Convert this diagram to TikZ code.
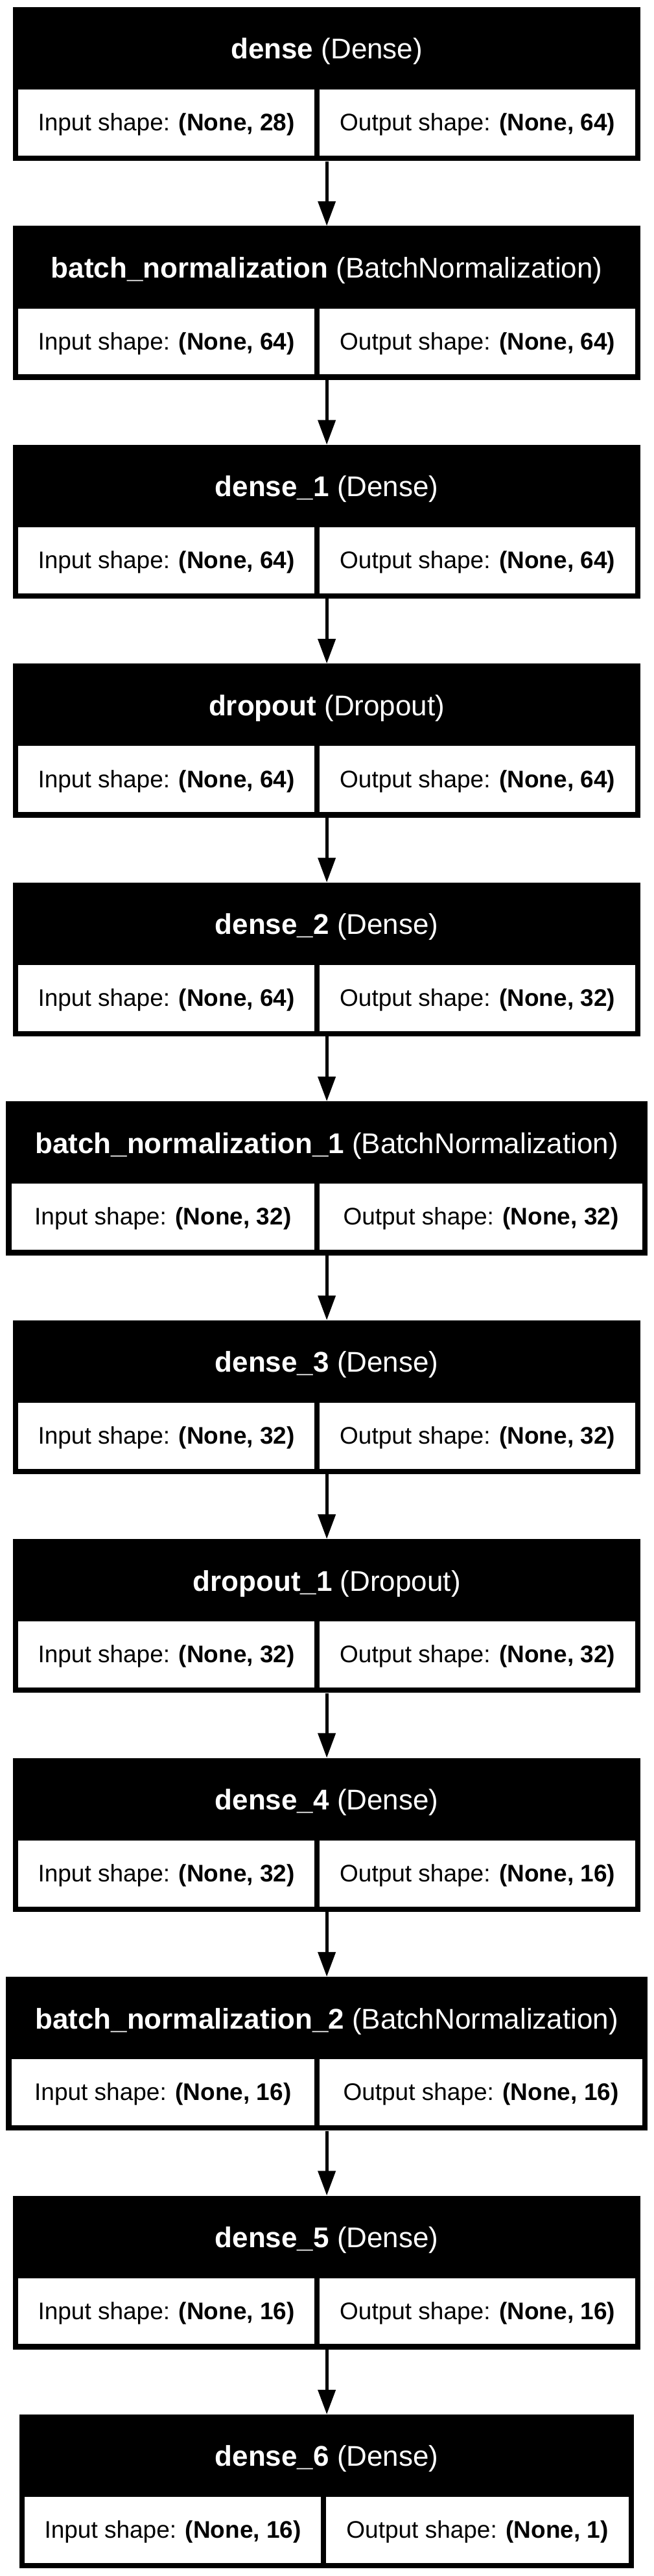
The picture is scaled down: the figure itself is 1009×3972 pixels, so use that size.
\documentclass[tikz,border=0pt]{standalone}
\usepackage{fontspec}
\setmainfont{Liberation Sans}
\usetikzlibrary{arrows.meta}
\tikzset{
  blk/.style={rectangle, fill=black, draw=none, inner sep=0pt},
  hdrtext/.style={text=white, inner sep=0pt, font=\fontsize{44}{51}\selectfont},
  cellbox/.style={rectangle, fill=white, draw=none, inner sep=0pt, minimum height=101.8pt,
     text height=25.4pt, text depth=0pt, font=\fontsize{37}{44}\selectfont},
  conn/.style={line width=5pt, -{Triangle[length=38pt,width=26.7pt]}}
}
% #1 node name, #2 top, #3 left, #4 right, #5 divider, #6 bold name, #7 class, #8 in, #9 out
\newcommand\layerblock[9]{%
  \node[blk, minimum width={#4-#3}, minimum height=237.3pt] (#1) at ({(#3+#4)/2}, {#2+118.65}) {};
  \node[hdrtext, anchor=base] (#1h) at ({(#3+#4)/2}, {#2+80}) {\textbf{#6} (#7)};
  \node[cellbox, minimum width={#5-#3-8.3}] (#1in) at ({(#3+8.3+#5)/2}, {#2+178}) {Input shape: \textbf{(None, #8)}};
  \node[cellbox, minimum width={#4-#5-16.6}] (#1out) at ({(#5+#4)/2}, {#2+178}) {Output shape: \textbf{(None, #9)}};
}
\begin{document}
\begin{tikzpicture}[x=1pt,y=-1pt]
\useasboundingbox (0,0) rectangle (1009,3972);
\fill[white] (0,0) rectangle (1009,3972);
\layerblock{b0}{11}{20}{988.3}{485}{dense}{Dense}{28}{64}
\layerblock{b1}{348.45}{20}{988.3}{485}{batch\_normalization}{BatchNormalization}{64}{64}
\layerblock{b2}{685.9}{20}{988.3}{485}{dense\_1}{Dense}{64}{64}
\layerblock{b3}{1023.35}{20}{988.3}{485}{dropout}{Dropout}{64}{64}
\layerblock{b4}{1360.8}{20}{988.3}{485}{dense\_2}{Dense}{64}{32}
\layerblock{b5}{1698.25}{9.3}{999}{485}{batch\_normalization\_1}{BatchNormalization}{32}{32}
\layerblock{b6}{2035.7}{20}{988.3}{485}{dense\_3}{Dense}{32}{32}
\layerblock{b7}{2373.15}{20}{988.3}{485}{dropout\_1}{Dropout}{32}{32}
\layerblock{b8}{2710.6}{20}{988.3}{485}{dense\_4}{Dense}{32}{16}
\layerblock{b9}{3048.05}{9.3}{999}{485}{batch\_normalization\_2}{BatchNormalization}{16}{16}
\layerblock{b10}{3385.5}{20}{988.3}{485}{dense\_5}{Dense}{16}{16}
\layerblock{b11}{3722.95}{30}{978.3}{495}{dense\_6}{Dense}{16}{1}
\foreach \a/\b in {b0/b1,b1/b2,b2/b3,b3/b4,b4/b5,b5/b6,b6/b7,b7/b8,b8/b9,b9/b10,b10/b11}
  \draw[conn] (\a.south) -- (\b.north);
\end{tikzpicture}
\end{document}
